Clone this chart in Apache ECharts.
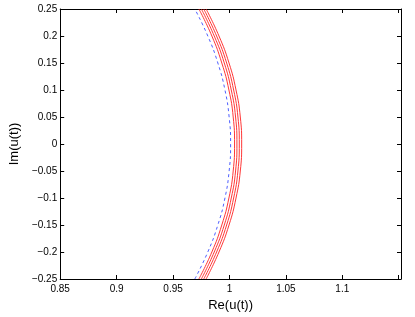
<!DOCTYPE html>
<html>
<head>
<meta charset="utf-8">
<script src="https://cdn.jsdelivr.net/npm/echarts@6/dist/echarts.min.js"></script>
<style>
  html, body { margin: 0; padding: 0; background: #fff; }
  #chart { width: 415px; height: 317px; }
</style>
</head>
<body>
<div id="chart"></div>
<script>
// values
const imValues = [-0.25, -0.2, -0.15, -0.1, -0.05, 0, 0.05, 0.1, 0.15, 0.2, 0.25];
const blueRe = [0.9693, 0.9808, 0.9897, 0.9960, 0.9997, 1.0010, 0.9997, 0.9960, 0.9897, 0.9808, 0.9693];
const red1Re = [0.9729, 0.9844, 0.9932, 0.9995, 1.0033, 1.0045, 1.0033, 0.9995, 0.9932, 0.9844, 0.9729];
const red2Re = [0.9751, 0.9865, 0.9954, 1.0016, 1.0054, 1.0066, 1.0054, 1.0016, 0.9954, 0.9865, 0.9751];
const red3Re = [0.9772, 0.9886, 0.9975, 1.0037, 1.0075, 1.0087, 1.0075, 1.0037, 0.9975, 0.9886, 0.9772];
const red4Re = [0.9793, 0.9907, 0.9996, 1.0058, 1.0096, 1.0108, 1.0096, 1.0058, 0.9996, 0.9907, 0.9793];
const xTicks = [0.85, 0.9, 0.95, 1, 1.05, 1.1];
const yTicks = [-0.25, -0.2, -0.15, -0.1, -0.05, 0, 0.05, 0.1, 0.15, 0.2, 0.25];

const myChart = echarts.init(document.getElementById('chart'));

function pairs(xs) {
  return xs.map((x, i) => [x, imValues[i]]);
}

function tickLabel(list) {
  return function (v) {
    const hit = list.find(t => Math.abs(t - v) < 1e-6);
    if (hit === undefined) return '';
    return String(hit).replace('-', '\u2212');
  };
}

const font = 'Liberation Sans, Arial, sans-serif';

function axisCommon(show) {
  return {
    type: 'value',
    axisLine: { show: true, onZero: false, lineStyle: { color: '#000', width: 1 } },
    axisTick: { show: true, inside: true, length: 4, lineStyle: { color: '#000' } },
    splitLine: { show: false },
    axisLabel: { show: show, color: '#000', fontSize: 10, fontFamily: font }
  };
}

const xMain = Object.assign(axisCommon(true), {
  position: 'bottom', min: 0.85, max: 1.152, interval: 0.05,
  name: 'Re(u(t))', nameLocation: 'middle', nameGap: 20,
  nameTextStyle: { color: '#000', fontSize: 13, fontFamily: font }
});
xMain.axisLabel.formatter = tickLabel(xTicks);
xMain.axisLabel.margin = 5;
const xTop = Object.assign(axisCommon(false), {
  position: 'top', min: 0.85, max: 1.152, interval: 0.05
});

const yMain = Object.assign(axisCommon(true), {
  position: 'left', min: -0.25, max: 0.25, interval: 0.05,
  name: 'Im(u(t))', nameLocation: 'middle', nameGap: 37,
  nameTextStyle: { color: '#000', fontSize: 13, fontFamily: font }
});
yMain.axisLabel.formatter = tickLabel(yTicks);
yMain.axisLabel.margin = 3;
const yRight = Object.assign(axisCommon(false), {
  position: 'right', min: -0.25, max: 0.25, interval: 0.05
});

function curve(data, color, dashed) {
  return {
    type: 'line',
    data: pairs(data),
    smooth: true,
    showSymbol: false,
    animation: false,
    silent: true,
    clip: true,
    lineStyle: { color: color, width: 0.9, type: dashed ? [3, 3] : 'solid' }
  };
}

const option = {
  backgroundColor: '#fff',
  animation: false,
  grid: { left: 52, top: 9, right: 14, bottom: 32 },
  xAxis: [xMain, xTop],
  yAxis: [yMain, yRight],
  series: [
    curve(blueRe, '#3a4dff', true),
    curve(red1Re, '#ff2020', false),
    curve(red2Re, '#ff2020', false),
    curve(red3Re, '#ff2020', false),
    curve(red4Re, '#ff2020', false)
  ]
};

myChart.setOption(option);
</script>
</body>
</html>
